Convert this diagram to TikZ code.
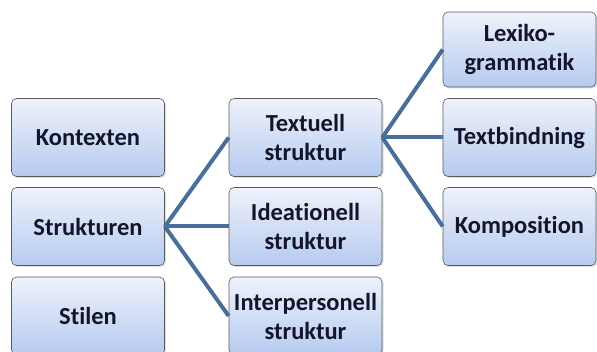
\documentclass[tikz,border=0pt]{standalone}
\usepackage{fontspec}
\setmainfont{Carlito}[Ligatures=NoCommon]
\usetikzlibrary{shadows}
\definecolor{boxtop}{HTML}{EEF2FB}
\definecolor{boxbot}{HTML}{B6CAF0}
\definecolor{boxline}{HTML}{5A5A5A}
\definecolor{conn}{HTML}{4A6E9C}
\definecolor{txt}{HTML}{14142A}
\tikzset{
  box/.style={draw=boxline, line width=0.6pt, rounded corners=5pt,
    top color=boxtop, bottom color=boxbot, minimum width=153pt,
    minimum height=78pt, align=center, inner sep=0pt,
    font=\bfseries\fontsize{24.5}{29}\selectfont, text=txt,
    drop shadow={shadow xshift=1.5pt, shadow yshift=-1.5pt, opacity=0.25}},
  link/.style={draw=conn, line width=4pt}
}
\begin{document}
\begin{tikzpicture}[x=1pt,y=-1pt]
\useasboundingbox (0,0) rectangle (597,352);
% column 1
\node[box] (kon) at (88,137.5) {Kontexten};
\node[box] (str) at (88,226.5) {Strukturen};
\node[box] (sti) at (88,316) {Stilen};
% column 2
\node[box] (tex) at (305.5,137.5) {Textuell\\struktur};
\node[box] (ide) at (305.5,226.5) {Ideationell\\struktur};
\node[box] (int) at (305.5,316) {Interpersonell\\struktur};
% column 3
\node[box, minimum height=75pt] (lex) at (519.5,49.5) {Lexiko-\\grammatik};
\node[box] (tbi) at (519.5,137.5) {Textbindning};
\node[box] (kom) at (519.5,226.5) {Komposition};
% connectors
\draw[link] (str.east) -- (tex.west);
\draw[link] (str.east) -- (ide.west);
\draw[link] (str.east) -- (int.west);
\draw[link] (tex.east) -- (lex.west);
\draw[link] (tex.east) -- (tbi.west);
\draw[link] (tex.east) -- (kom.west);
\end{tikzpicture}
\end{document}
